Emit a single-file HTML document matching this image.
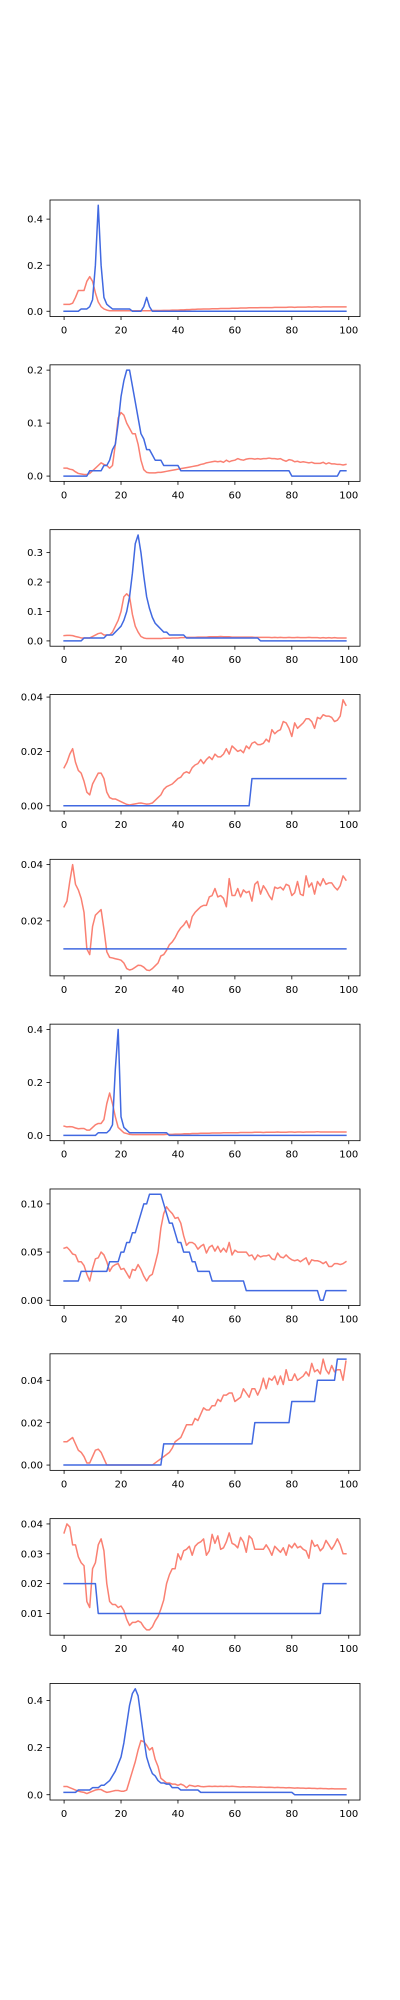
<!DOCTYPE html>
<html><head><meta charset="utf-8"><style>
html,body{margin:0;padding:0;background:#fff;}
svg{display:block;}
text{font-family:"DejaVu Sans","Liberation Sans",sans-serif;font-size:10px;fill:#000;}
</style></head><body>
<svg id="fig" width="400" height="2000" viewBox="0 0 400 2000" xmlns="http://www.w3.org/2000/svg"></svg>
<script>
const xCategories=[0,1,2,3,4,5,6,7,8,9,10,11,12,13,14,15,16,17,18,19,20,21,22,23,24,25,26,27,28,29,30,31,32,33,34,35,36,37,38,39,40,41,42,43,44,45,46,47,48,49,50,51,52,53,54,55,56,57,58,59,60,61,62,63,64,65,66,67,68,69,70,71,72,73,74,75,76,77,78,79,80,81,82,83,84,85,86,87,88,89,90,91,92,93,94,95,96,97,98,99];
const xTicks=[0,20,40,60,80,100];
const xTickLabels=["0","20","40","60","80","100"];

const blue1=[0,0,0,0,0,0,0.01,0.01,0.01,0.02,0.05,0.2,0.46,0.2,0.06,0.03,0.02,0.01,0.01,0.01,0.01,0.01,0.01,0.01,0,0,0,0,0.02,0.06,0.02,0,0,0,0,0,0,0,0,0,0,0,0,0,0,0,0,0,0,0,0,0,0,0,0,0,0,0,0,0,0,0,0,0,0,0,0,0,0,0,0,0,0,0,0,0,0,0,0,0,0,0,0,0,0,0,0,0,0,0,0,0,0,0,0,0,0,0,0,0];
const red1=[0.03,0.03,0.03,0.035,0.06,0.09,0.09,0.09,0.13,0.15,0.13,0.08,0.04,0.02,0.01,0.005,0.002,0.002,0.002,0.002,0.002,0.002,0.002,0.002,0.002,0.002,0.002,0.002,0.002,0.002,0.002,0.003,0.003,0.003,0.003,0.004,0.004,0.004,0.005,0.005,0.005,0.006,0.006,0.007,0.007,0.008,0.008,0.009,0.009,0.01,0.01,0.01,0.011,0.011,0.011,0.012,0.012,0.012,0.012,0.013,0.013,0.013,0.014,0.014,0.014,0.015,0.015,0.015,0.015,0.016,0.016,0.016,0.016,0.016,0.017,0.017,0.017,0.017,0.017,0.018,0.018,0.017,0.018,0.018,0.018,0.018,0.019,0.018,0.019,0.019,0.018,0.019,0.019,0.019,0.019,0.019,0.019,0.019,0.019,0.019];
const ticks1=[0,0.2,0.4],tickLabels1=["0.0","0.2","0.4"];

const blue2=[0,0,0,0,0,0,0,0,0,0.01,0.01,0.01,0.01,0.01,0.02,0.02,0.03,0.05,0.06,0.1,0.15,0.18,0.2,0.2,0.17,0.14,0.11,0.08,0.07,0.05,0.05,0.04,0.03,0.03,0.03,0.02,0.02,0.02,0.02,0.02,0.02,0.01,0.01,0.01,0.01,0.01,0.01,0.01,0.01,0.01,0.01,0.01,0.01,0.01,0.01,0.01,0.01,0.01,0.01,0.01,0.01,0.01,0.01,0.01,0.01,0.01,0.01,0.01,0.01,0.01,0.01,0.01,0.01,0.01,0.01,0.01,0.01,0.01,0.01,0.01,0,0,0,0,0,0,0,0,0,0,0,0,0,0,0,0,0,0.01,0.01,0.01];
const red2=[0.015,0.015,0.013,0.012,0.008,0.005,0.004,0.003,0.003,0.005,0.01,0.015,0.02,0.025,0.022,0.02,0.015,0.02,0.06,0.11,0.12,0.115,0.1,0.09,0.08,0.08,0.06,0.03,0.012,0.007,0.006,0.006,0.006,0.007,0.007,0.008,0.009,0.01,0.011,0.012,0.013,0.014,0.015,0.016,0.017,0.018,0.019,0.02,0.022,0.023,0.025,0.026,0.027,0.028,0.027,0.028,0.026,0.03,0.027,0.029,0.03,0.033,0.031,0.03,0.032,0.033,0.033,0.032,0.033,0.032,0.033,0.033,0.034,0.033,0.033,0.032,0.033,0.03,0.028,0.031,0.03,0.027,0.028,0.026,0.027,0.026,0.025,0.026,0.024,0.024,0.024,0.026,0.023,0.025,0.023,0.023,0.022,0.022,0.021,0.022];
const ticks2=[0,0.1,0.2],tickLabels2=["0.0","0.1","0.2"];

const blue3=[0,0,0,0,0,0,0,0.01,0.01,0.01,0.01,0.01,0.01,0.01,0.01,0.02,0.02,0.02,0.03,0.04,0.05,0.07,0.1,0.15,0.23,0.33,0.36,0.3,0.22,0.15,0.11,0.08,0.06,0.05,0.04,0.03,0.03,0.02,0.02,0.02,0.02,0.02,0.02,0.01,0.01,0.01,0.01,0.01,0.01,0.01,0.01,0.01,0.01,0.01,0.01,0.01,0.01,0.01,0.01,0.01,0.01,0.01,0.01,0.01,0.01,0.01,0.01,0.01,0.01,0,0,0,0,0,0,0,0,0,0,0,0,0,0,0,0,0,0,0,0,0,0,0,0,0,0,0,0,0,0,0];
const red3=[0.018,0.019,0.019,0.018,0.015,0.013,0.01,0.01,0.01,0.01,0.015,0.02,0.025,0.027,0.02,0.02,0.02,0.03,0.05,0.07,0.1,0.15,0.16,0.15,0.09,0.05,0.03,0.015,0.01,0.008,0.008,0.008,0.008,0.008,0.008,0.009,0.009,0.009,0.01,0.01,0.01,0.011,0.011,0.012,0.012,0.012,0.012,0.013,0.013,0.013,0.013,0.014,0.014,0.014,0.014,0.015,0.014,0.014,0.014,0.013,0.013,0.013,0.013,0.013,0.013,0.013,0.013,0.012,0.012,0.012,0.012,0.012,0.012,0.011,0.012,0.011,0.012,0.011,0.011,0.012,0.011,0.011,0.012,0.011,0.011,0.011,0.012,0.011,0.011,0.011,0.01,0.011,0.01,0.011,0.01,0.011,0.01,0.01,0.01,0.01];
const ticks3=[0,0.1,0.2,0.3],tickLabels3=["0.0","0.1","0.2","0.3"];

const blue4=[0,0,0,0,0,0,0,0,0,0,0,0,0,0,0,0,0,0,0,0,0,0,0,0,0,0,0,0,0,0,0,0,0,0,0,0,0,0,0,0,0,0,0,0,0,0,0,0,0,0,0,0,0,0,0,0,0,0,0,0,0,0,0,0,0,0,0.01,0.01,0.01,0.01,0.01,0.01,0.01,0.01,0.01,0.01,0.01,0.01,0.01,0.01,0.01,0.01,0.01,0.01,0.01,0.01,0.01,0.01,0.01,0.01,0.01,0.01,0.01,0.01,0.01,0.01,0.01,0.01,0.01,0.01];
const red4=[0.014,0.016,0.019,0.021,0.016,0.013,0.012,0.009,0.005,0.004,0.008,0.01,0.012,0.012,0.01,0.005,0.003,0.0025,0.0025,0.002,0.0015,0.001,0.0005,0.0003,0.0005,0.0007,0.0009,0.001,0.0008,0.0006,0.0007,0.001,0.002,0.003,0.004,0.006,0.007,0.0075,0.008,0.009,0.01,0.0105,0.012,0.0125,0.012,0.014,0.015,0.0155,0.017,0.0155,0.017,0.018,0.017,0.019,0.018,0.018,0.019,0.021,0.019,0.022,0.021,0.02,0.0205,0.0195,0.022,0.021,0.023,0.0235,0.0225,0.0225,0.023,0.0245,0.0235,0.028,0.0265,0.0275,0.028,0.031,0.0305,0.0285,0.0255,0.0305,0.0285,0.0295,0.0305,0.032,0.032,0.031,0.0285,0.0325,0.032,0.0335,0.033,0.033,0.0325,0.031,0.0315,0.033,0.039,0.037];
const ticks4=[0,0.02,0.04],tickLabels4=["0.00","0.02","0.04"];

const blue5=[0.01,0.01,0.01,0.01,0.01,0.01,0.01,0.01,0.01,0.01,0.01,0.01,0.01,0.01,0.01,0.01,0.01,0.01,0.01,0.01,0.01,0.01,0.01,0.01,0.01,0.01,0.01,0.01,0.01,0.01,0.01,0.01,0.01,0.01,0.01,0.01,0.01,0.01,0.01,0.01,0.01,0.01,0.01,0.01,0.01,0.01,0.01,0.01,0.01,0.01,0.01,0.01,0.01,0.01,0.01,0.01,0.01,0.01,0.01,0.01,0.01,0.01,0.01,0.01,0.01,0.01,0.01,0.01,0.01,0.01,0.01,0.01,0.01,0.01,0.01,0.01,0.01,0.01,0.01,0.01,0.01,0.01,0.01,0.01,0.01,0.01,0.01,0.01,0.01,0.01,0.01,0.01,0.01,0.01,0.01,0.01,0.01,0.01,0.01,0.01];
const red5=[0.025,0.027,0.034,0.04,0.033,0.031,0.028,0.023,0.01,0.008,0.018,0.022,0.023,0.024,0.017,0.009,0.007,0.0068,0.0065,0.0063,0.006,0.005,0.003,0.0025,0.0028,0.0035,0.0042,0.0041,0.0035,0.0025,0.0023,0.003,0.004,0.005,0.0075,0.008,0.0095,0.0115,0.0125,0.014,0.016,0.0175,0.0185,0.02,0.0175,0.0215,0.023,0.024,0.025,0.0255,0.0255,0.0285,0.029,0.0315,0.0285,0.029,0.028,0.025,0.035,0.029,0.029,0.0315,0.0285,0.031,0.03,0.0305,0.027,0.033,0.034,0.0295,0.0325,0.031,0.029,0.0275,0.032,0.0315,0.032,0.031,0.033,0.0325,0.029,0.03,0.034,0.0295,0.029,0.036,0.032,0.0335,0.0295,0.034,0.0325,0.035,0.033,0.0335,0.0335,0.032,0.031,0.0325,0.036,0.0345];
const ticks5=[0.02,0.04],tickLabels5=["0.02","0.04"];

const blue6=[0,0,0,0,0,0,0,0,0,0,0,0,0.01,0.01,0.01,0.01,0.02,0.04,0.25,0.4,0.07,0.03,0.02,0.01,0.01,0.01,0.01,0.01,0.01,0.01,0.01,0.01,0.01,0.01,0.01,0.01,0.01,0,0,0,0,0,0,0,0,0,0,0,0,0,0,0,0,0,0,0,0,0,0,0,0,0,0,0,0,0,0,0,0,0,0,0,0,0,0,0,0,0,0,0,0,0,0,0,0,0,0,0,0,0,0,0,0,0,0,0,0,0,0,0];
const red6=[0.035,0.032,0.033,0.032,0.028,0.025,0.026,0.026,0.02,0.02,0.03,0.04,0.045,0.045,0.06,0.12,0.16,0.12,0.07,0.03,0.02,0.01,0.007,0.004,0.003,0.003,0.003,0.003,0.003,0.003,0.003,0.003,0.003,0.003,0.003,0.003,0.004,0.004,0.004,0.005,0.005,0.005,0.006,0.006,0.006,0.007,0.007,0.007,0.008,0.008,0.008,0.008,0.009,0.009,0.009,0.009,0.01,0.01,0.01,0.01,0.01,0.01,0.011,0.011,0.011,0.011,0.011,0.012,0.012,0.012,0.011,0.012,0.012,0.012,0.012,0.013,0.012,0.012,0.012,0.013,0.013,0.012,0.013,0.013,0.012,0.013,0.013,0.013,0.013,0.014,0.013,0.013,0.013,0.013,0.013,0.013,0.013,0.013,0.013,0.013];
const ticks6=[0,0.2,0.4],tickLabels6=["0.0","0.2","0.4"];

const blue7=[0.02,0.02,0.02,0.02,0.02,0.02,0.03,0.03,0.03,0.03,0.03,0.03,0.03,0.03,0.03,0.03,0.04,0.04,0.04,0.04,0.05,0.05,0.06,0.06,0.07,0.07,0.08,0.09,0.1,0.1,0.11,0.11,0.11,0.11,0.11,0.1,0.09,0.08,0.08,0.07,0.06,0.06,0.05,0.05,0.05,0.04,0.04,0.03,0.03,0.03,0.03,0.03,0.02,0.02,0.02,0.02,0.02,0.02,0.02,0.02,0.02,0.02,0.02,0.02,0.01,0.01,0.01,0.01,0.01,0.01,0.01,0.01,0.01,0.01,0.01,0.01,0.01,0.01,0.01,0.01,0.01,0.01,0.01,0.01,0.01,0.01,0.01,0.01,0.01,0.01,0,0,0.01,0.01,0.01,0.01,0.01,0.01,0.01,0.01];
const red7=[0.054,0.055,0.052,0.048,0.047,0.04,0.04,0.036,0.027,0.02,0.033,0.043,0.044,0.05,0.047,0.04,0.03,0.035,0.037,0.038,0.032,0.033,0.028,0.023,0.032,0.031,0.037,0.032,0.025,0.02,0.025,0.027,0.038,0.05,0.075,0.09,0.097,0.093,0.09,0.085,0.086,0.08,0.067,0.057,0.06,0.06,0.058,0.053,0.056,0.058,0.049,0.055,0.057,0.051,0.056,0.05,0.054,0.05,0.06,0.047,0.052,0.05,0.05,0.05,0.05,0.046,0.047,0.042,0.047,0.045,0.046,0.046,0.047,0.043,0.042,0.049,0.045,0.044,0.047,0.044,0.042,0.041,0.042,0.04,0.042,0.044,0.037,0.042,0.041,0.041,0.04,0.038,0.04,0.035,0.035,0.038,0.038,0.037,0.038,0.04];
const ticks7=[0,0.05,0.1],tickLabels7=["0.00","0.05","0.10"];

const blue8=[0,0,0,0,0,0,0,0,0,0,0,0,0,0,0,0,0,0,0,0,0,0,0,0,0,0,0,0,0,0,0,0,0,0,0,0.01,0.01,0.01,0.01,0.01,0.01,0.01,0.01,0.01,0.01,0.01,0.01,0.01,0.01,0.01,0.01,0.01,0.01,0.01,0.01,0.01,0.01,0.01,0.01,0.01,0.01,0.01,0.01,0.01,0.01,0.01,0.01,0.02,0.02,0.02,0.02,0.02,0.02,0.02,0.02,0.02,0.02,0.02,0.02,0.02,0.03,0.03,0.03,0.03,0.03,0.03,0.03,0.03,0.03,0.04,0.04,0.04,0.04,0.04,0.04,0.04,0.05,0.05,0.05,0.05];
const red8=[0.011,0.011,0.012,0.013,0.01,0.007,0.006,0.004,0.001,0.001,0.004,0.007,0.0075,0.006,0.003,0,0,0,0,0,0,0,0,0,0,0,0,0,0,0,0,0,0.001,0.002,0.003,0.004,0.005,0.006,0.008,0.011,0.012,0.013,0.016,0.019,0.019,0.019,0.022,0.021,0.024,0.027,0.026,0.026,0.028,0.028,0.031,0.03,0.033,0.033,0.034,0.034,0.03,0.031,0.032,0.036,0.034,0.032,0.036,0.036,0.033,0.036,0.041,0.036,0.041,0.04,0.042,0.038,0.042,0.038,0.045,0.04,0.04,0.043,0.04,0.041,0.042,0.044,0.042,0.048,0.044,0.045,0.043,0.05,0.045,0.043,0.047,0.044,0.045,0.045,0.04,0.049];
const ticks8=[0,0.02,0.04],tickLabels8=["0.00","0.02","0.04"];

const blue9=[0.02,0.02,0.02,0.02,0.02,0.02,0.02,0.02,0.02,0.02,0.02,0.02,0.01,0.01,0.01,0.01,0.01,0.01,0.01,0.01,0.01,0.01,0.01,0.01,0.01,0.01,0.01,0.01,0.01,0.01,0.01,0.01,0.01,0.01,0.01,0.01,0.01,0.01,0.01,0.01,0.01,0.01,0.01,0.01,0.01,0.01,0.01,0.01,0.01,0.01,0.01,0.01,0.01,0.01,0.01,0.01,0.01,0.01,0.01,0.01,0.01,0.01,0.01,0.01,0.01,0.01,0.01,0.01,0.01,0.01,0.01,0.01,0.01,0.01,0.01,0.01,0.01,0.01,0.01,0.01,0.01,0.01,0.01,0.01,0.01,0.01,0.01,0.01,0.01,0.01,0.01,0.02,0.02,0.02,0.02,0.02,0.02,0.02,0.02,0.02];
const red9=[0.037,0.04,0.039,0.033,0.033,0.029,0.027,0.026,0.014,0.012,0.025,0.027,0.033,0.035,0.031,0.02,0.014,0.013,0.013,0.012,0.0125,0.011,0.008,0.006,0.007,0.007,0.0075,0.007,0.0055,0.0045,0.0045,0.0055,0.0075,0.009,0.0115,0.0145,0.02,0.023,0.025,0.025,0.03,0.028,0.031,0.0315,0.0325,0.0295,0.0325,0.0335,0.034,0.035,0.0295,0.031,0.0365,0.0335,0.036,0.0315,0.032,0.034,0.037,0.0335,0.033,0.032,0.0355,0.034,0.0305,0.036,0.035,0.0315,0.0315,0.0315,0.0315,0.033,0.0315,0.0295,0.0325,0.0315,0.0305,0.032,0.0295,0.033,0.032,0.0335,0.032,0.0325,0.0315,0.031,0.0285,0.0345,0.0325,0.033,0.031,0.032,0.0345,0.033,0.0315,0.033,0.035,0.033,0.03,0.03];
const ticks9=[0.01,0.02,0.03,0.04],tickLabels9=["0.01","0.02","0.03","0.04"];

const blue10=[0.01,0.01,0.01,0.01,0.01,0.02,0.02,0.02,0.02,0.02,0.03,0.03,0.03,0.04,0.04,0.05,0.06,0.08,0.1,0.13,0.16,0.22,0.3,0.38,0.43,0.45,0.42,0.33,0.24,0.16,0.12,0.09,0.08,0.06,0.05,0.05,0.045,0.045,0.03,0.03,0.03,0.02,0.02,0.02,0.02,0.02,0.02,0.02,0.01,0.01,0.01,0.01,0.01,0.01,0.01,0.01,0.01,0.01,0.01,0.01,0.01,0.01,0.01,0.01,0.01,0.01,0.01,0.01,0.01,0.01,0.01,0.01,0.01,0.01,0.01,0.01,0.01,0.01,0.01,0.01,0.01,0,0,0,0,0,0,0,0,0,0,0,0,0,0,0,0,0,0,0];
const red10=[0.035,0.035,0.03,0.025,0.02,0.015,0.012,0.01,0.005,0.01,0.015,0.02,0.022,0.022,0.015,0.01,0.012,0.015,0.018,0.018,0.015,0.015,0.02,0.06,0.1,0.14,0.19,0.23,0.225,0.21,0.19,0.2,0.15,0.12,0.07,0.06,0.05,0.05,0.045,0.045,0.04,0.045,0.04,0.03,0.04,0.038,0.035,0.038,0.035,0.034,0.035,0.036,0.035,0.036,0.035,0.036,0.035,0.036,0.035,0.036,0.035,0.034,0.033,0.034,0.033,0.034,0.033,0.033,0.032,0.033,0.032,0.031,0.032,0.031,0.03,0.031,0.03,0.03,0.029,0.03,0.029,0.028,0.029,0.028,0.028,0.027,0.028,0.027,0.027,0.026,0.027,0.026,0.026,0.025,0.026,0.025,0.025,0.025,0.025,0.025];
const ticks10=[0,0.2,0.4],tickLabels10=["0.0","0.2","0.4"];

const panels=[
 {blue:blue1,red:red1,ticks:ticks1,labels:tickLabels1},
 {blue:blue2,red:red2,ticks:ticks2,labels:tickLabels2},
 {blue:blue3,red:red3,ticks:ticks3,labels:tickLabels3},
 {blue:blue4,red:red4,ticks:ticks4,labels:tickLabels4},
 {blue:blue5,red:red5,ticks:ticks5,labels:tickLabels5},
 {blue:blue6,red:red6,ticks:ticks6,labels:tickLabels6},
 {blue:blue7,red:red7,ticks:ticks7,labels:tickLabels7},
 {blue:blue8,red:red8,ticks:ticks8,labels:tickLabels8},
 {blue:blue9,red:red9,ticks:ticks9,labels:tickLabels9},
 {blue:blue10,red:red10,ticks:ticks10,labels:tickLabels10}
];

const NS="http://www.w3.org/2000/svg";
const svg=document.getElementById('fig');
const L=50,R=360,TOP=200,H=116.55,STEP=164.83;
function mk(tag,attrs,parent){const e=document.createElementNS(NS,tag);for(const k in attrs)e.setAttribute(k,attrs[k]);parent.appendChild(e);return e;}

panels.forEach((p,i)=>{
  const top=TOP+i*STEP,bot=top+H;
  const g=mk('g',{},svg);
  
  
  const xmin=Math.min(...xCategories),xmax=Math.max(...xCategories),xr=xmax-xmin;
  const x0=xmin-0.05*xr,x1=xmax+0.05*xr;
  const all=p.blue.concat(p.red);
  const dmin=Math.min(...all),dmax=Math.max(...all),dr=(dmax-dmin)||1;
  const y0=dmin-0.05*dr,y1=dmax+0.05*dr;
  const xs=v=>L+(v-x0)/(x1-x0)*(R-L);
  const ys=v=>bot-(v-y0)/(y1-y0)*(bot-top);
  // series
  [['red',p.red,'#fa8072'],['blue',p.blue,'#4169e1']].forEach(([nm,arr,col])=>{
    const d=arr.map((v,j)=>(j?'L':'M')+xs(xCategories[j]).toFixed(2)+','+ys(v).toFixed(2)).join('');
    const path=mk('path',{d:d,fill:'none',stroke:col,'stroke-width':1.5,'stroke-linejoin':'round','stroke-linecap':'square'},g);
    
    
  });
  const frame=mk('rect',{x:L,y:top,width:R-L,height:H,fill:'none',stroke:'#000','stroke-width':0.8},g);
  
  
  xTicks.forEach((t,k)=>{
    const x=xs(t);
    const tl=mk('line',{x1:x,x2:x,y1:bot,y2:bot+3.5,stroke:'#000','stroke-width':0.8},g);
    
    
    const tx=mk('text',{x:x,y:bot+17,'text-anchor':'middle'},g);
    tx.textContent=xTickLabels[k];
    
    
  });
  p.ticks.forEach((t,k)=>{
    const y=ys(t);
    const tl=mk('line',{x1:L-3.5,x2:L,y1:y,y2:y,stroke:'#000','stroke-width':0.8},g);
    
    
    const tx=mk('text',{x:L-7,y:y+3.6,'text-anchor':'end'},g);
    tx.textContent=p.labels[k];
    
    
  });
});
</script>
</body></html>
